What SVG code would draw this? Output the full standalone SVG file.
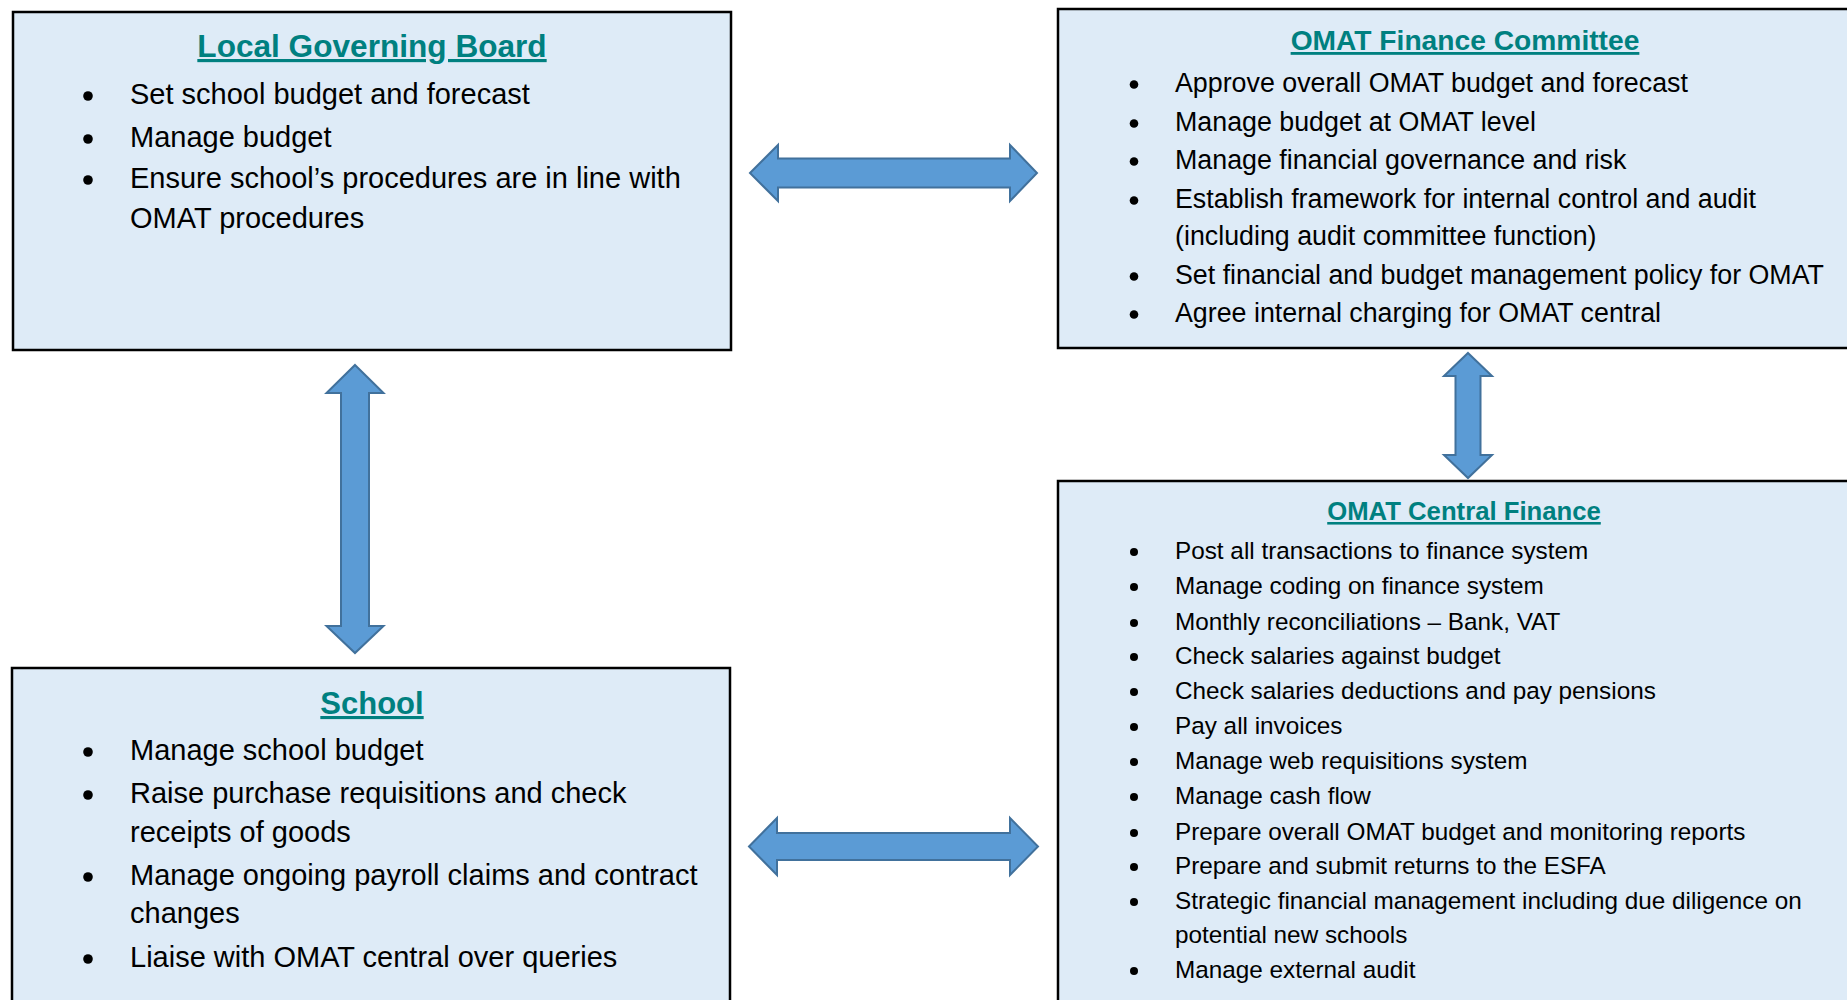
<svg xmlns="http://www.w3.org/2000/svg" width="1847" height="1000" viewBox="0 0 1847 1000">
<style>
.box{fill:#DEEBF7;stroke:#000;stroke-width:2.5}
.t{font-family:"Liberation Sans",Arial,sans-serif;font-weight:bold;fill:#008080;text-anchor:middle;text-decoration:underline}
.b1{font-family:"Liberation Sans",Arial,sans-serif;font-size:29px;fill:#000}
.b2{font-family:"Liberation Sans",Arial,sans-serif;font-size:26.8px;fill:#000}
.b3{font-family:"Liberation Sans",Arial,sans-serif;font-size:24.3px;fill:#000}
.dot{fill:#000}
.arr{fill:#5B9BD5;stroke:#41719C;stroke-width:2;stroke-linejoin:miter}
</style>
<rect width="1847" height="1000" fill="#fff"/>
<g id="local-governing-board">
<rect class="box" x="13" y="12" width="718" height="338"/>
<text class="t" x="372" y="57" font-size="31.6">Local Governing Board</text>
<circle class="dot" cx="88" cy="96" r="4.8"/><text class="b1" x="130" y="104">Set school budget and forecast</text>
<circle class="dot" cx="88" cy="139" r="4.8"/><text class="b1" x="130" y="147">Manage budget</text>
<circle class="dot" cx="88" cy="180" r="4.8"/><text class="b1" x="130" y="188">Ensure school’s procedures are in line with</text>
<text class="b1" x="130" y="228">OMAT procedures</text>
</g>
<g id="omat-finance-committee">
<rect class="box" x="1058" y="9" width="800" height="339"/>
<text class="t" x="1465" y="50" font-size="28.2">OMAT Finance Committee</text>
<circle class="dot" cx="1134" cy="84.5" r="4.3"/><text class="b2" x="1175" y="92">Approve overall OMAT budget and forecast</text>
<circle class="dot" cx="1134" cy="123.5" r="4.3"/><text class="b2" x="1175" y="131">Manage budget at OMAT level</text>
<circle class="dot" cx="1134" cy="161.5" r="4.3"/><text class="b2" x="1175" y="169">Manage financial governance and risk</text>
<circle class="dot" cx="1134" cy="200.5" r="4.3"/><text class="b2" x="1175" y="208">Establish framework for internal control and audit</text>
<text class="b2" x="1175" y="245">(including audit committee function)</text>
<circle class="dot" cx="1134" cy="276.5" r="4.3"/><text class="b2" x="1175" y="284">Set financial and budget management policy for OMAT</text>
<circle class="dot" cx="1134" cy="314.5" r="4.3"/><text class="b2" x="1175" y="322">Agree internal charging for OMAT central</text>
</g>
<g id="omat-central-finance">
<rect class="box" x="1058" y="481" width="800" height="540"/>
<text class="t" x="1464" y="520" font-size="25.7">OMAT Central Finance</text>
<circle class="dot" cx="1134" cy="552" r="4"/><text class="b3" x="1175" y="559">Post all transactions to finance system</text>
<circle class="dot" cx="1134" cy="587" r="4"/><text class="b3" x="1175" y="594">Manage coding on finance system</text>
<circle class="dot" cx="1134" cy="623" r="4"/><text class="b3" x="1175" y="630">Monthly reconciliations – Bank, VAT</text>
<circle class="dot" cx="1134" cy="657" r="4"/><text class="b3" x="1175" y="664">Check salaries against budget</text>
<circle class="dot" cx="1134" cy="692" r="4"/><text class="b3" x="1175" y="699">Check salaries deductions and pay pensions</text>
<circle class="dot" cx="1134" cy="727" r="4"/><text class="b3" x="1175" y="734">Pay all invoices</text>
<circle class="dot" cx="1134" cy="762" r="4"/><text class="b3" x="1175" y="769">Manage web requisitions system</text>
<circle class="dot" cx="1134" cy="797" r="4"/><text class="b3" x="1175" y="804">Manage cash flow</text>
<circle class="dot" cx="1134" cy="833" r="4"/><text class="b3" x="1175" y="840">Prepare overall OMAT budget and monitoring reports</text>
<circle class="dot" cx="1134" cy="867" r="4"/><text class="b3" x="1175" y="874">Prepare and submit returns to the ESFA</text>
<circle class="dot" cx="1134" cy="902" r="4"/><text class="b3" x="1175" y="909">Strategic financial management including due diligence on</text>
<text class="b3" x="1175" y="943">potential new schools</text>
<circle class="dot" cx="1134" cy="971" r="4"/><text class="b3" x="1175" y="978">Manage external audit</text>
</g>
<g id="school">
<rect class="box" x="12" y="668" width="718" height="360"/>
<text class="t" x="372" y="714" font-size="31">School</text>
<circle class="dot" cx="88" cy="752" r="4.8"/><text class="b1" x="130" y="760">Manage school budget</text>
<circle class="dot" cx="88" cy="795" r="4.8"/><text class="b1" x="130" y="803">Raise purchase requisitions and check</text>
<text class="b1" x="130" y="842">receipts of goods</text>
<circle class="dot" cx="88" cy="877" r="4.8"/><text class="b1" x="130" y="885">Manage ongoing payroll claims and contract</text>
<text class="b1" x="130" y="923">changes</text>
<circle class="dot" cx="88" cy="959" r="4.8"/><text class="b1" x="130" y="967">Liaise with OMAT central over queries</text>
</g>
<g id="connectors">
<polygon class="arr" points="750,173 778,145 778,158.5 1010,158.5 1010,145 1037,173 1010,201 1010,187.5 778,187.5 778,201"/>
<polygon class="arr" points="749,846.5 777,818 777,833 1010,833 1010,818 1038,846.5 1010,875 1010,860 777,860 777,875"/>
<polygon class="arr" points="355,365 383.5,393 369,393 369,626 383.5,626 355,653 326.5,626 341,626 341,393 326.5,393"/>
<polygon class="arr" points="1468,353 1492,376 1480.5,376 1480.5,455 1492,455 1468,478 1444,455 1455.5,455 1455.5,376 1444,376"/>
</g>
</svg>
